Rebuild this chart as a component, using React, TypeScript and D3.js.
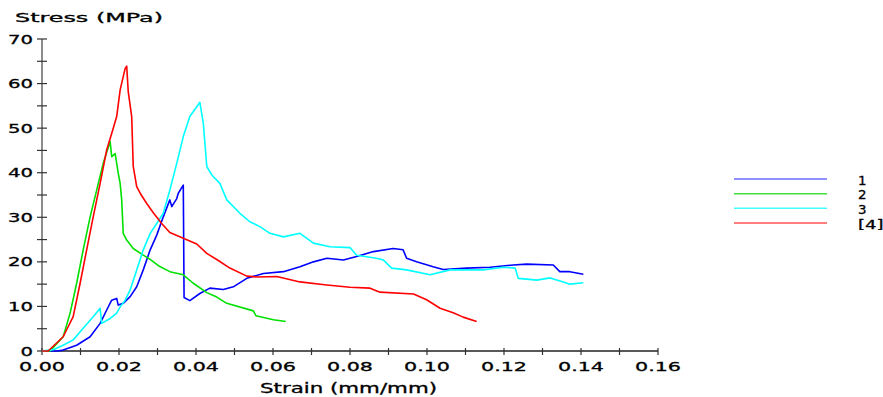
import React from "react";
import * as d3 from "d3";

// [strain (mm/mm), stress (MPa)]
const curve1: [number, number][] = [
  [0, 0], [0.004, 0], [0.0055, 0.2], [0.009, 1.3], [0.0125, 3.2], [0.0151, 6.2], [0.0168, 9.2],
  [0.0181, 11.4], [0.0194, 11.8], [0.0198, 10.3], [0.0211, 10.7], [0.0229, 12.2], [0.0246, 14.4],
  [0.0263, 18.2], [0.0281, 22.7], [0.0298, 26.0], [0.0315, 30.1], [0.0332, 33.9], [0.0337, 32.4],
  [0.035, 34.2], [0.0354, 35.4], [0.0367, 37.2], [0.0369, 12.0], [0.0384, 11.3], [0.041, 12.9],
  [0.0436, 14.1], [0.0471, 13.8], [0.0497, 14.4], [0.0532, 16.3], [0.0575, 17.4], [0.0627, 17.8],
  [0.067, 18.9], [0.0705, 20.0], [0.074, 20.8], [0.0783, 20.4], [0.0817, 21.2], [0.0861, 22.3],
  [0.0912, 23.0], [0.0938, 22.7], [0.0947, 20.8], [0.0973, 20.0], [0.1016, 18.9], [0.1042, 18.3],
  [0.1103, 18.6], [0.1164, 18.8], [0.1224, 19.3], [0.1259, 19.5], [0.1328, 19.3], [0.1345, 17.8],
  [0.1371, 17.8], [0.1406, 17.2],
];

const curve2: [number, number][] = [
  [0, 0], [0.0021, 0], [0.0055, 3.2], [0.0073, 8.5], [0.009, 15.2], [0.0107, 22.7], [0.0125, 30.1],
  [0.0142, 36.1], [0.0159, 42.1], [0.0177, 47.0], [0.0181, 43.6], [0.019, 44.3], [0.0198, 39.9],
  [0.0203, 37.6], [0.0207, 33.9], [0.0211, 26.4], [0.022, 24.9], [0.0237, 23.0], [0.0263, 21.5],
  [0.028, 20.6], [0.0305, 19.0], [0.0332, 17.8], [0.0367, 17.1], [0.0393, 15.2], [0.0428, 13.1],
  [0.0454, 12.1], [0.048, 10.7], [0.0549, 9.0], [0.0556, 7.9], [0.0601, 7.0], [0.0633, 6.6],
];

const curve3: [number, number][] = [
  [0, 0], [0.0029, 0.3], [0.0055, 1.3], [0.0081, 2.5], [0.0107, 5.1], [0.0133, 7.7], [0.0151, 9.6],
  [0.0155, 6.2], [0.0177, 7.3], [0.0194, 8.5], [0.0203, 9.9], [0.0216, 11.4], [0.0229, 13.7],
  [0.0246, 18.2], [0.0263, 22.7], [0.0281, 26.4], [0.0298, 28.6], [0.0315, 30.9], [0.0332, 36.1],
  [0.035, 42.1], [0.0367, 48.1], [0.0384, 52.6], [0.0402, 54.8], [0.041, 55.8], [0.0419, 51.1],
  [0.0428, 41.4], [0.0441, 39.5], [0.0462, 37.6], [0.048, 33.9], [0.0514, 30.9], [0.054, 29.0],
  [0.0566, 27.9], [0.0592, 26.4], [0.0627, 25.6], [0.067, 26.4], [0.0705, 24.2], [0.0748, 23.4],
  [0.08, 23.2], [0.0817, 21.5], [0.0869, 20.8], [0.0887, 20.4], [0.0908, 18.6], [0.0947, 18.2],
  [0.1008, 17.1], [0.106, 18.2], [0.1146, 18.2], [0.1198, 18.8], [0.1229, 18.6], [0.1237, 16.3],
  [0.1285, 15.9], [0.132, 16.4], [0.1354, 15.5], [0.1371, 15.0], [0.1406, 15.3],
];

const curve4: [number, number][] = [
  [0, 0], [0.0016, 0], [0.0055, 3.2], [0.0081, 7.7], [0.0099, 15.2], [0.0116, 22.7], [0.0133, 30.1],
  [0.0151, 37.6], [0.0168, 45.1], [0.0181, 48.8], [0.0194, 52.6], [0.0203, 58.6], [0.0216, 63.4],
  [0.022, 63.9], [0.0224, 58.2], [0.0233, 52.6], [0.0237, 41.4], [0.0246, 36.9], [0.0255, 35.4],
  [0.0272, 33.1], [0.0289, 31.0], [0.0312, 28.5], [0.0332, 26.6], [0.0367, 25.3], [0.0402, 24.0],
  [0.0428, 21.9], [0.0458, 20.3], [0.0488, 18.6], [0.0532, 16.8], [0.056, 16.6], [0.061, 16.7],
  [0.067, 15.5], [0.074, 14.8], [0.08, 14.3], [0.0852, 14.1], [0.0878, 13.2], [0.0965, 12.8],
  [0.0999, 11.5], [0.1034, 9.6], [0.1068, 8.6], [0.1094, 7.6], [0.1129, 6.6],
];

const seriesNames = ["1", "2", "3", "[4]"];
const seriesColors = ["#0000ff", "#00e000", "#00ffff", "#ff0000"];
const legendColors = ["#6a6aff", "#44dd44", "#44ffff", "#ff5555"];
const xTickLabels = ["0.00", "0.02", "0.04", "0.06", "0.08", "0.10", "0.12", "0.14", "0.16"];
const yTickLabels = ["0", "10", "20", "30", "40", "50", "60", "70"];

const W = 883;
const H = 397;
const font = "'DejaVu Sans', sans-serif";
const ink = { fill: "#000", stroke: "#000", strokeWidth: 0.3 };

const App = () => {
  const x = d3.scaleLinear().domain([0, 0.16]).range([42, 658]);
  const y = d3.scaleLinear().domain([0, 70]).range([351, 39]);
  const line = d3
    .line<[number, number]>()
    .x((d) => x(d[0]))
    .y((d) => y(d[1]));

  const curves = [curve1, curve2, curve3, curve4];
  const yMinor = d3.range(0, 71, 5);
  const xMinor = d3.range(0, 0.1601, 0.01);
  const legendY = d3.scaleLinear().domain([0, 3]).range([179, 223]);

  return (
    <svg width={W} height={H} style={{ position: "absolute", left: 0, top: 0, background: "#fff" }}>
      {/* y axis */}
      <line x1={42} x2={42} y1={y(70)} y2={y(0)} stroke="#666" strokeWidth={1.5} />
      {yMinor.map((v) => (
        <line key={"yt" + v} x1={37} x2={47} y1={y(v)} y2={y(v)} stroke="#333" strokeWidth={1.2} />
      ))}
      {yTickLabels.map((t) => (
        <text
          key={"yl" + t}
          x={33}
          y={y(+t) + 4.5}
          textAnchor="end"
          fontFamily={font}
          fontSize={12}
          {...ink}
          textLength={t.length * 12.5}
          lengthAdjust="spacingAndGlyphs"
        >
          {t}
        </text>
      ))}
      {/* x axis */}
      <line x1={x(0)} x2={x(0.16)} y1={351} y2={351} stroke="#222" strokeWidth={1.3} />
      {xMinor.map((v, i) => (
        <line key={"xt" + i} x1={x(v)} x2={x(v)} y1={348} y2={355} stroke="#333" strokeWidth={1.2} />
      ))}
      {xTickLabels.map((t) => (
        <text
          key={"xl" + t}
          x={x(+t)}
          y={371}
          textAnchor="middle"
          fontFamily={font}
          fontSize={12.5}
          {...ink}
          textLength={46}
          lengthAdjust="spacingAndGlyphs"
        >
          {t}
        </text>
      ))}
      <text
        x={15}
        y={22}
        fontFamily={font}
        fontSize={13}
        {...ink}
        textLength={148}
        lengthAdjust="spacingAndGlyphs"
      >
        Stress (MPa)
      </text>
      <text
        x={260}
        y={393}
        fontFamily={font}
        fontSize={13.5}
        {...ink}
        textLength={177}
        lengthAdjust="spacingAndGlyphs"
      >
        Strain (mm/mm)
      </text>

      {/* curves */}
      {curves.map((c, i) => (
        <path
          key={"c" + i}
          d={line(c) || ""}
          fill="none"
          stroke={seriesColors[i]}
          strokeWidth={1.6}
          strokeLinejoin="round"
        />
      ))}

      {/* legend */}
      {seriesNames.map((n, i) => (
        <g key={"lg" + i}>
          <line
            x1={734}
            x2={827}
            y1={legendY(i)}
            y2={legendY(i)}
            stroke={legendColors[i]}
            strokeWidth={1.5}
          />
          <text
            x={858}
            y={legendY(i) + 5.5}
            fontFamily={font}
            fontSize={12}
            {...ink}
            textLength={n.length * 8.5}
            lengthAdjust="spacingAndGlyphs"
          >
            {n}
          </text>
        </g>
      ))}
    </svg>
  );
};

export default App;
